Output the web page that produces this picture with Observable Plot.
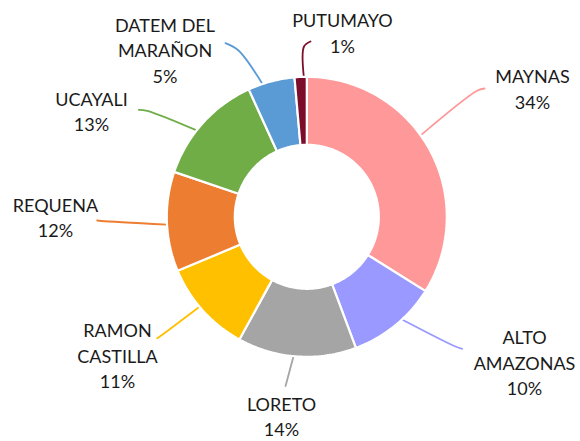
<!DOCTYPE html>
<html>
<head>
<meta charset="utf-8">
<script src="https://cdn.jsdelivr.net/npm/d3@7"></script>
<script src="https://cdn.jsdelivr.net/npm/@observablehq/plot@0.6"></script>
<style>
  html, body { margin: 0; padding: 0; background: #fff; }
  #chart { width: 580px; height: 441px; }
</style>
</head>
<body>
<div id="chart"></div>
<script>
// ---- data ----
const regions = ["MAYNAS", "ALTO AMAZONAS", "LORETO", "RAMON CASTILLA", "REQUENA", "UCAYALI", "DATEM DEL MARAÑON", "PUTUMAYO"];
const shares = [33.9, 10.4, 13.7, 10.7, 11.5, 13.0, 5.4, 1.4];
const percentLabels = ["34%", "10%", "14%", "11%", "12%", "13%", "5%", "1%"];
const labelLines = [["MAYNAS"], ["ALTO", "AMAZONAS"], ["LORETO"], ["RAMON", "CASTILLA"], ["REQUENA"], ["UCAYALI"], ["DATEM DEL", "MARAÑON"], ["PUTUMAYO"]];

// ---- styles ----
const colors = ["#FF9999", "#9999FF", "#A5A5A5", "#FFC000", "#ED7D31", "#70AD47", "#5B9BD5", "#7B0C2A"];

// ---- layout (pixels) ----
const W = 580, H = 441;
const cx = 306.3, cy = 216.3, rOuter = 140, rInner = 72;
const labelShift = -4;
const labelAt = [[532, 68.8], [524, 329.8], [281, 396.3], [117, 322.8], [55, 197.1], [91, 91.1], [164.5, 17.1], [342, 12.6]];
const leaderNudge = [-6.6, -3.6, 1.3, 2, -1.2, -4, -3.7, 1.3]; // degrees
const leaderEnd = [
  [[477, 90], [484, 88]],
  [[455, 346], [461.7, 348.3]],
  [[286, 382], [285, 385.5]],
  [[160, 335.5], [156.7, 337.7]],
  [[101, 220.5], [96.7, 220]],
  [[146.7, 110.3], [138.3, 109.3]],
  [[238, 50], [225, 42.7]],
  [[303.5, 46], [310, 41]]
];

// ---- compute slices ----
const pie = d3.pie().sort(null).value(d => d).startAngle(0).endAngle(2 * Math.PI)(shares);
const px = (r, a) => cx + r * Math.sin(a);
const py = (r, a) => cy - r * Math.cos(a);

const slicePts = [];
pie.forEach((p, i) => {
  const n = Math.max(4, Math.ceil((p.endAngle - p.startAngle) / 0.02));
  for (let k = 0; k <= n; k++) {
    const a = p.startAngle + (p.endAngle - p.startAngle) * k / n;
    slicePts.push({region: regions[i], x: px(rOuter, a), y: py(rOuter, a)});
  }
  for (let k = n; k >= 0; k--) {
    const a = p.startAngle + (p.endAngle - p.startAngle) * k / n;
    slicePts.push({region: regions[i], x: px(rInner, a), y: py(rInner, a)});
  }
});

const leaderPts = [];
pie.forEach((p, i) => {
  const a = (p.startAngle + p.endAngle) / 2 + leaderNudge[i] * Math.PI / 180;
  leaderPts.push({region: regions[i], x: px(rOuter, a), y: py(rOuter, a)});
  leaderEnd[i].forEach(([x, y]) => leaderPts.push({region: regions[i], x, y}));
});

const labels = regions.map((r, i) => ({
  region: r,
  x: labelAt[i][0],
  y: labelAt[i][1] + labelShift,
  text: [...labelLines[i], percentLabels[i]].join("\n")
}));

const chart = Plot.plot({
  width: W,
  height: H,
  margin: 0,
  style: {background: "#fff"},
  x: {domain: [0, W], range: [0, W], axis: null},
  y: {domain: [0, H], range: [0, H], axis: null},
  color: {domain: regions, range: colors},
  marks: [
    Plot.line(leaderPts, {x: "x", y: "y", z: "region", stroke: "region", strokeWidth: 1.8, curve: "catmull-rom"}),
    Plot.line(slicePts, {x: "x", y: "y", z: "region", fill: "region", stroke: "#fff", strokeWidth: 2.2, strokeLinejoin: "miter", curve: "linear-closed"}),
    Plot.text(labels, {x: "x", y: "y", text: "text", textAnchor: "middle", lineAnchor: "top", lineHeight: 1.417,
      fontSize: 18, fontFamily: "Lato", fill: "#1a1a1a"})
  ]
});
document.getElementById("chart").appendChild(chart);
</script>
</body>
</html>
